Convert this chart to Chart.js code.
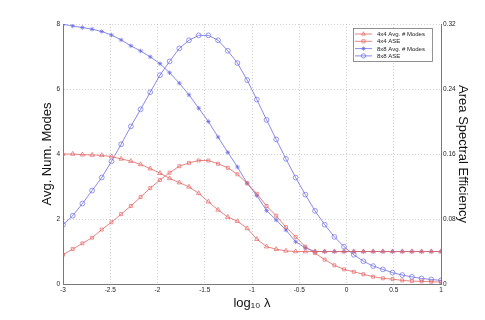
<!DOCTYPE html>
<html>
<head>
<meta charset="utf-8">
<script src="https://cdn.jsdelivr.net/npm/chart.js@4.4.1/dist/chart.umd.min.js"></script>
<style>
  html, body { margin: 0; padding: 0; background: #fff; }
  #wrap { width: 485px; height: 320px; }
</style>
</head>
<body>
<div id="wrap"><canvas id="chart" width="485" height="320"></canvas></div>
<script>
// log10 lambda sample points (40 points from -3 to 1)
const logLambda = [-3, -2.897, -2.795, -2.692, -2.590, -2.487, -2.385, -2.282, -2.179, -2.077,
  -1.974, -1.872, -1.769, -1.667, -1.564, -1.462, -1.359, -1.256, -1.154, -1.051,
  -0.949, -0.846, -0.744, -0.641, -0.538, -0.436, -0.333, -0.231, -0.128, -0.026,
  0.077, 0.179, 0.282, 0.385, 0.487, 0.590, 0.692, 0.795, 0.897, 1];

// left axis: average number of modes
const modes4x4 = [4.0, 4.0, 3.98, 3.97, 3.96, 3.92, 3.85, 3.78, 3.68, 3.55,
  3.41, 3.25, 3.12, 2.99, 2.79, 2.53, 2.28, 2.06, 1.93, 1.71,
  1.38, 1.15, 1.07, 1.02, 1.0, 1.0, 1.0, 1.0, 1.0, 1.0,
  1.0, 1.0, 1.0, 1.0, 1.0, 1.0, 1.0, 1.0, 1.0, 1.0];
const modes8x8 = [7.99, 7.94, 7.89, 7.84, 7.77, 7.66, 7.51, 7.33, 7.17, 6.99,
  6.78, 6.50, 6.18, 5.82, 5.41, 5.0, 4.52, 4.05, 3.6, 3.1,
  2.72, 2.26, 1.97, 1.66, 1.3, 1.11, 1.0, 1.0, 1.0, 1.0,
  1.0, 1.0, 1.0, 1.0, 1.0, 1.0, 1.0, 1.0, 1.0, 1.0];

// right axis: area spectral efficiency
const ase4x4 = [0.036, 0.043, 0.050, 0.057, 0.067, 0.076, 0.086, 0.096, 0.107, 0.118,
  0.128, 0.137, 0.145, 0.149, 0.152, 0.152, 0.148, 0.143, 0.135, 0.124,
  0.111, 0.096, 0.084, 0.070, 0.058, 0.046, 0.038, 0.030, 0.023, 0.018,
  0.015, 0.012, 0.009, 0.007, 0.006, 0.0044, 0.0036, 0.0032, 0.0028, 0.0024];
const ase8x8 = [0.073, 0.084, 0.099, 0.115, 0.131, 0.151, 0.172, 0.194, 0.215, 0.236,
  0.257, 0.274, 0.290, 0.300, 0.306, 0.306, 0.300, 0.287, 0.272, 0.251,
  0.227, 0.202, 0.178, 0.154, 0.131, 0.110, 0.090, 0.073, 0.058, 0.046,
  0.036, 0.028, 0.022, 0.018, 0.014, 0.011, 0.0088, 0.0068, 0.0056, 0.0044];

const seriesNames = ["4x4 Avg. # Modes", "4x4 ASE", "8x8 Avg. # Modes", "8x8 ASE"];
const xTicks = [-3, -2.5, -2, -1.5, -1, -0.5, 0, 0.5, 1];

const red = "rgb(226,100,100)";
const blue = "rgb(108,108,226)";

function pts(ys) {
  return ys.map((y, i) => ({ x: logLambda[i], y: y }));
}

function makeSet(label, ys, color, style, radius, axis) {
  return {
    label: label,
    data: pts(ys),
    yAxisID: axis,
    borderColor: color,
    backgroundColor: "rgba(0,0,0,0)",
    borderWidth: 0.8,
    pointStyle: style,
    pointRadius: radius,
    pointBorderColor: color,
    pointBackgroundColor: "rgba(0,0,0,0)",
    pointBorderWidth: 0.7,
    tension: 0
  };
}

const datasets = [
  makeSet(seriesNames[0], modes4x4, red, "triangle", 2.6, "y"),
  makeSet(seriesNames[1], ase4x4, red, "rect", 2.1, "y1"),
  makeSet(seriesNames[2], modes8x8, blue, "star", 2.3, "y"),
  makeSet(seriesNames[3], ase8x8, blue, "circle", 2.4, "y1")
];

// legend box drawn inside the plot, top right
const insideLegend = {
  id: "insideLegend",
  afterDraw(chart) {
    const ctx = chart.ctx;
    const x0 = 353, y0 = 28, w = 79, h = 33;
    ctx.save();
    ctx.fillStyle = "#fff";
    ctx.fillRect(x0, y0, w, h);
    ctx.strokeStyle = "#777";
    ctx.lineWidth = 0.8;
    ctx.strokeRect(x0 + 0.5, y0 + 0.5, w, h);
    ctx.font = "6px 'Liberation Sans', Arial, sans-serif";
    ctx.textBaseline = "middle";
    datasets.forEach((ds, i) => {
      const y = y0 + 6 + i * 7.3;
      ctx.strokeStyle = ds.borderColor;
      ctx.lineWidth = 0.8;
      ctx.beginPath();
      ctx.moveTo(x0 + 2, y);
      ctx.lineTo(x0 + 19, y);
      ctx.stroke();
      if (Chart.helpers && Chart.helpers.drawPoint) {
        ctx.fillStyle = "rgba(0,0,0,0)";
        ctx.strokeStyle = ds.borderColor;
        ctx.lineWidth = 0.7;
        Chart.helpers.drawPoint(ctx, {
          pointStyle: ds.pointStyle, radius: 2.2, borderWidth: 0.7, rotation: 0
        }, x0 + 10.5, y);
      }
      ctx.fillStyle = "#222";
      ctx.fillText(ds.label, x0 + 24, y + 0.5);
    });
    ctx.restore();
  }
};

const tickFont = { family: "'Liberation Sans', Arial, sans-serif", size: 6.5 };
const titleFont = { family: "'Liberation Sans', Arial, sans-serif", size: 13 };
const gridStyle = {
  color: "#bdbdbd",
  lineWidth: 0.7,
  drawTicks: false
};

new Chart(document.getElementById("chart"), {
  type: "line",
  data: { datasets: datasets },
  plugins: [insideLegend],
  options: {
    responsive: false,
    animation: false,
    layout: { padding: { left: 40, right: 15, top: 24, bottom: 9 } },
    plugins: { legend: { display: false }, tooltip: { enabled: false } },
    scales: {
      x: {
        type: "linear",
        min: -3, max: 1,
        afterBuildTicks: (s) => { s.ticks = xTicks.map(v => ({ value: v })); },
        afterFit: (s) => { s.height = 27; },
        ticks: { font: tickFont, color: "#222", padding: 2, maxRotation: 0, callback: (v) => String(v) },
        grid: gridStyle,
        border: { display: true, color: "#777", width: 1, dash: [1, 2] },
        title: { display: true, text: "log\u2081\u2080 \u03bb", font: titleFont, color: "#111", padding: 0 }
      },
      y: {
        position: "left",
        min: 0, max: 8,
        ticks: { stepSize: 2, font: tickFont, color: "#222", padding: 3 },
        afterFit: (s) => { s.width = 23; },
        grid: gridStyle,
        border: { display: true, color: "#777", width: 1, dash: [1, 2] },
        title: { display: true, text: "Avg. Num. Modes", font: titleFont, color: "#111", padding: 0 }
      },
      y1: {
        position: "right",
        min: 0, max: 0.32,
        ticks: {
          stepSize: 0.08, font: tickFont, color: "#222", padding: 2,
          callback: (v) => (v === 0 ? "0" : v.toFixed(2))
        },
        afterFit: (s) => { s.width = 29; },
        grid: { display: false, drawTicks: false },
        border: { display: true, color: "#777", width: 1 },
        title: { display: true, text: "Area Spectral Efficiency", font: titleFont, color: "#111", padding: 0 }
      }
    }
  }
});
</script>
</body>
</html>
